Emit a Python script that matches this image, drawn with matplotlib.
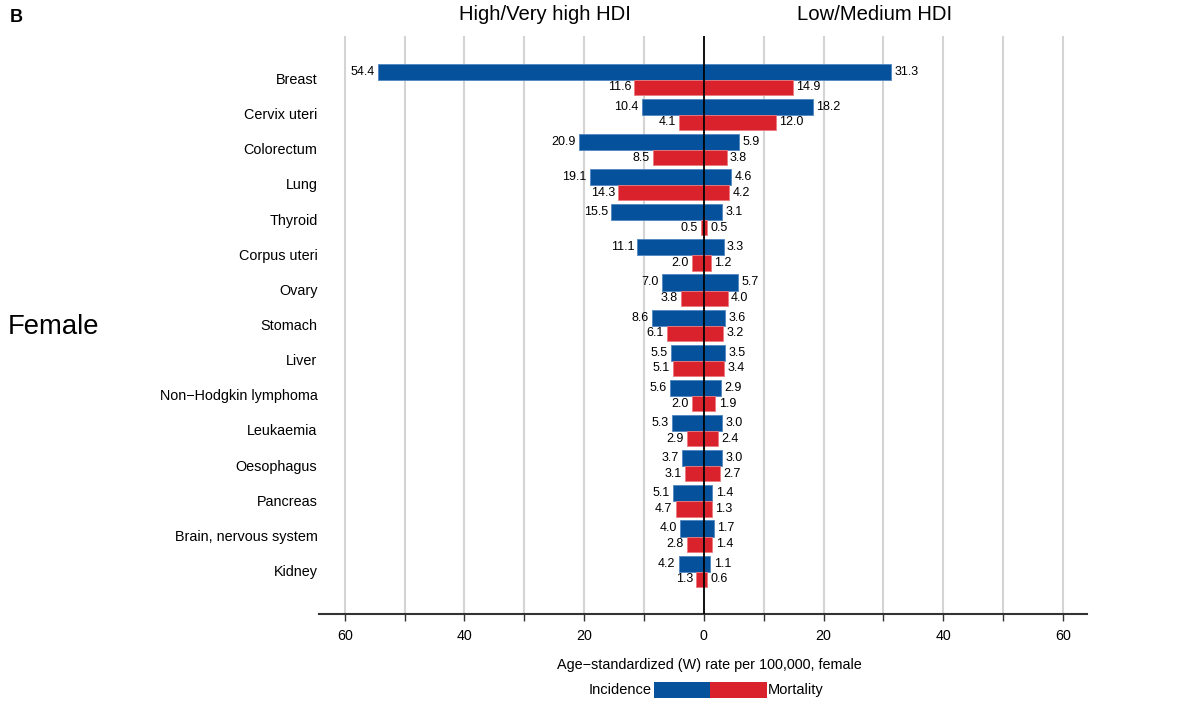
import matplotlib
matplotlib.use('Agg')
import matplotlib.pyplot as plt
from matplotlib.patches import Rectangle
from matplotlib.transforms import blended_transform_factory

plt.rcParams['font.family'] = ['Liberation Sans', 'DejaVu Sans']

# cancer sites, top to bottom
sites = ['Breast', 'Cervix uteri', 'Colorectum', 'Lung', 'Thyroid', 'Corpus uteri',
         'Ovary', 'Stomach', 'Liver', 'Non\u2212Hodgkin lymphoma', 'Leukaemia',
         'Oesophagus', 'Pancreas', 'Brain, nervous system', 'Kidney']

# High/Very high HDI (drawn to the left)
high_inc  = [54.4, 10.4, 20.9, 19.1, 15.5, 11.1, 7.0, 8.6, 5.5, 5.6, 5.3, 3.7, 5.1, 4.0, 4.2]
high_mort = [11.6, 4.1, 8.5, 14.3, 0.5, 2.0, 3.8, 6.1, 5.1, 2.0, 2.9, 3.1, 4.7, 2.8, 1.3]

# Low/Medium HDI (drawn to the right)
low_inc  = [31.3, 18.2, 5.9, 4.6, 3.1, 3.3, 5.7, 3.6, 3.5, 2.9, 3.0, 3.0, 1.4, 1.7, 1.1]
low_mort = [14.9, 12.0, 3.8, 4.2, 0.5, 1.2, 4.0, 3.2, 3.4, 1.9, 2.4, 2.7, 1.3, 1.4, 0.6]

BLUE = '#06519c'
RED = '#d9222b'

fig = plt.figure(figsize=(11.9, 7.2), dpi=100)
ax = fig.add_axes([319/1190, 1 - 614/720, (1087 - 319)/1190, (614 - 36)/720])

# grid lines every 10
for g in range(-60, 61, 10):
    ax.axvline(g, color='#d4d4d4', lw=1.5, zorder=0)

ypos = list(range(len(sites)))
h_inc = 0.46
h_mort = 0.43

ax.barh([y - h_inc/2 + 0.02 for y in ypos], [-v for v in high_inc], height=h_inc,
        color=BLUE, edgecolor='#4f86c0', lw=0.6, zorder=2)
ax.barh([y - h_inc/2 + 0.02 for y in ypos], low_inc, height=h_inc,
        color=BLUE, edgecolor='#4f86c0', lw=0.6, zorder=2)
ax.barh([y + h_mort/2 + 0.02 for y in ypos], [-v for v in high_mort], height=h_mort,
        color=RED, edgecolor='#ea7a7f', lw=0.6, zorder=2)
ax.barh([y + h_mort/2 + 0.02 for y in ypos], low_mort, height=h_mort,
        color=RED, edgecolor='#ea7a7f', lw=0.6, zorder=2)

ax.axvline(0, color='black', lw=1.3, zorder=3)

fs = 9
gap = 0.55
for i in ypos:
    yi = i - h_inc/2 + 0.02
    ym = i + h_mort/2 + 0.02
    ax.text(-high_inc[i] - gap, yi, f'{high_inc[i]:.1f}', ha='right', va='center', fontsize=fs)
    ax.text(low_inc[i] + gap, yi, f'{low_inc[i]:.1f}', ha='left', va='center', fontsize=fs)
    ax.text(-high_mort[i] - gap, ym, f'{high_mort[i]:.1f}', ha='right', va='center', fontsize=fs)
    ax.text(low_mort[i] + gap, ym, f'{low_mort[i]:.1f}', ha='left', va='center', fontsize=fs)

# site names to the left of the plot area
trans = blended_transform_factory(ax.transAxes, ax.transData)
for i, s in enumerate(sites):
    ax.text(-0.002, i + 0.03, s, transform=trans, ha='right', va='center', fontsize=10.4)

ax.set_xlim(-64.3, 64.0)
ax.set_ylim(len(sites) - 1 + 1.224, -1.224)

ax.set_xticks(range(-60, 61, 20))
ax.set_xticklabels([str(abs(t)) for t in range(-60, 61, 20)], fontsize=10.3)
ax.set_xticks(range(-50, 51, 20), minor=True)
ax.tick_params(axis='x', which='both', length=5, width=1, color='#333333', pad=6)
ax.set_yticks([])
for side in ['top', 'left', 'right']:
    ax.spines[side].set_visible(False)
ax.spines['bottom'].set_color('#333333')
ax.spines['bottom'].set_linewidth(1.5)

# headers and annotations
fig.text(545/1190, 1 - 14/720, 'High/Very high HDI', ha='center', va='center', fontsize=14.6)
fig.text(875/1190, 1 - 14/720, 'Low/Medium HDI', ha='center', va='center', fontsize=14.6)
fig.text(10/1190, 1 - 17/720, 'B', ha='left', va='center', fontsize=13, fontweight='bold')
fig.text(8/1190, 1 - 327/720, 'Female', ha='left', va='center', fontsize=19.8)
fig.text(709/1190, 1 - 665/720, 'Age\u2212standardized (W) rate per 100,000, female',
         ha='center', va='center', fontsize=10.4)

# legend
ly = 1 - 698/720
lh = 16/720
fig.patches.append(Rectangle((654/1190, ly), 56/1190, lh, transform=fig.transFigure,
                             facecolor=BLUE, edgecolor='none'))
fig.patches.append(Rectangle((710/1190, ly), 57/1190, lh, transform=fig.transFigure,
                             facecolor=RED, edgecolor='none'))
fig.text(652/1190, 1 - 690/720, 'Incidence', ha='right', va='center', fontsize=10.5)
fig.text(768/1190, 1 - 690/720, 'Mortality', ha='left', va='center', fontsize=10.5)

fig.savefig('out.png', dpi=100)
